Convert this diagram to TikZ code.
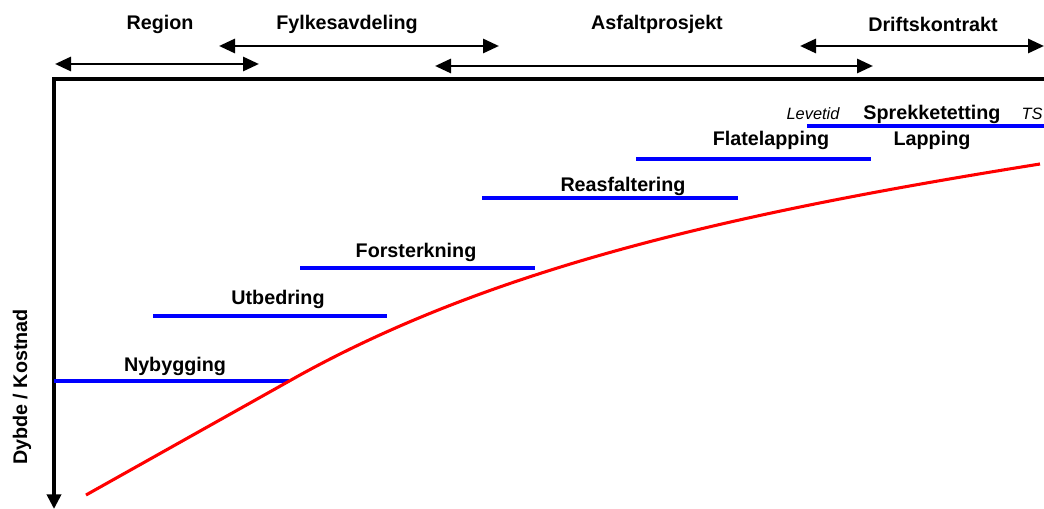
\documentclass[tikz,border=0pt]{standalone}
\usepackage{fontspec}
\setmainfont{Liberation Sans}
\usepackage{xcolor}
\usetikzlibrary{arrows.meta}

\begin{document}
\begin{tikzpicture}[x=0.75pt, y=-0.75pt,
        labelnode/.style={font=\fontsize{14.8}{17}\selectfont\bfseries, inner sep=0pt},
        smallnode/.style={font=\fontsize{12.3}{14}\selectfont\itshape, inner sep=0pt},
        spanline/.style={{Triangle[length=12pt, width=10.5pt]}-{Triangle[length=12pt, width=10.5pt]}, line width=2.2pt},
        axisline/.style={line width=3pt},
        stageline/.style={draw=blue, line width=3pt},
        wearline/.style={draw=red, line width=2.3pt},
    ]
    \useasboundingbox (0,0) rectangle (1044,509);
    %Nodes
    \node[labelnode]  (regionnode)  at (160,24) {Region};
    \node[labelnode]  (fylkenode)   at (347,24) {Fylkesavdeling};
    \node[labelnode]  (asfaltnode)  at (657,24) {Asfaltprosjekt};
    \node[labelnode]  (driftnode)   at (933,24) {Driftskontrakt};
    \node[labelnode, rotate=90]  (dybdenode)  at (22,387) {Dybde / Kostnad};
    \node[labelnode]  (nybyggnode)  at (175,366) {Nybygging};
    \node[labelnode]  (utbednode)   at (278,299) {Utbedring};
    \node[labelnode]  (forstnode)   at (416,252) {Forsterkning};
    \node[labelnode]  (reasfnode)   at (623,186) {Reasfaltering};
    \node[labelnode]  (flatenode)   at (771,140) {Flatelapping};
    \node[labelnode]  (sprekknode)  at (932,114) {Sprekketetting};
    \node[labelnode]  (lappnode)    at (932,140) {Lapping};
    \node[smallnode]  (levetidnode) at (813,114) {Levetid};
    \node[smallnode]  (tsnode)      at (1032,114) {TS};
    %Ends
    \coordinate (regionL) at (55,64);   \coordinate (regionR) at (259,64);
    \coordinate (fylkeL)  at (219,46);  \coordinate (fylkeR)  at (499,46);
    \coordinate (asfaltL) at (435,66);  \coordinate (asfaltR) at (873,66);
    \coordinate (driftL)  at (800,46);  \coordinate (driftR)  at (1044,46);
    \coordinate (origin)  at (54,79);   \coordinate (xend)    at (1044,79);
    \coordinate (yend)    at (54,509);
    \coordinate (wearA)   at (86,495);  \coordinate (wearB)   at (300,375);
    \coordinate (wearC)   at (1040,164);
    %Lines
    \draw[spanline] (regionL) -- (regionR);
    \draw[spanline] (fylkeL) -- (fylkeR);
    \draw[spanline] (asfaltL) -- (asfaltR);
    \draw[spanline] (driftL) -- (driftR);
    \draw[axisline] (xend) -- (origin.center) -- ++(0,-1.5);
    \draw[axisline, -{Triangle[length=11pt, width=10.5pt]}] (origin) -- (yend);
    \draw[stageline] (54,381) -- (289,381);
    \draw[stageline] (153,316) -- (387,316);
    \draw[stageline] (300,268) -- (535,268);
    \draw[stageline] (482,198) -- (738,198);
    \draw[stageline] (636,159) -- (871,159);
    \draw[stageline] (807,126) -- (1044,126);
    \draw[wearline] (wearA) -- (wearB) .. controls (500,265) and (740,212) .. (wearC);
\end{tikzpicture}
\end{document}
